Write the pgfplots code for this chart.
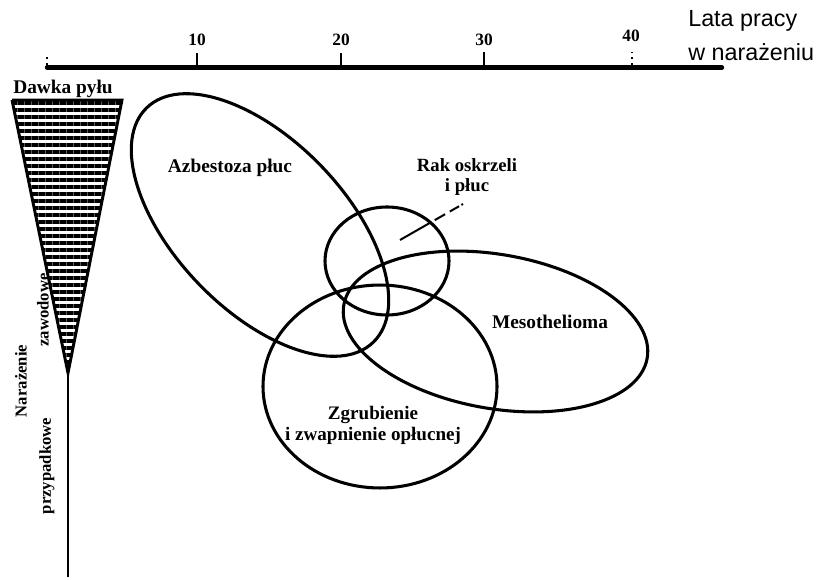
\documentclass[border=0pt]{standalone}
\usepackage{pgfplots}
\pgfplotsset{compat=1.18}
\usepackage{fontspec}
\setmainfont{Liberation Serif}
\newfontfamily\sansf{Liberation Sans}
\usetikzlibrary{patterns.meta}
\begin{document}
\begin{tikzpicture}
\begin{axis}[
  name=ax,
  width=612pt, height=434.25pt, scale only axis,
  xmin=0, xmax=816, ymin=0, ymax=579,
  hide axis, clip=false,
]
% time axis (pixel x of years: 0->52, 10->197, 20->341, 30->484, 40->632)
\addplot[black, line width=3.2pt, line cap=round] coordinates {(47,511.5) (722,511.5)};
\addplot[black, line width=1.6pt] coordinates {(197,511.5) (197,526)};
\addplot[black, line width=1.6pt] coordinates {(341,511.5) (341,526)};
\addplot[black, line width=1.6pt] coordinates {(484,511.5) (484,527)};
\addplot[black, line width=1.6pt, dash pattern=on 2pt off 3pt] coordinates {(632,513) (632,527)};
\addplot[black, line width=1.6pt, dash pattern=on 2pt off 3pt] coordinates {(47,513) (47,523)};
\node[font=\bfseries\fontsize{13}{14}\selectfont] at (axis cs:197,539) {10};
\node[font=\bfseries\fontsize{13}{14}\selectfont] at (axis cs:341,539) {20};
\node[font=\bfseries\fontsize{13}{14}\selectfont] at (axis cs:484,539) {30};
\node[font=\bfseries\fontsize{13}{14}\selectfont] at (axis cs:631,543) {40};
\node[anchor=west, inner sep=0pt, font=\sansf\fontsize{17.5}{19}\selectfont] at (axis cs:688,558) {Lata pracy};
\node[anchor=west, inner sep=0pt, font=\sansf\fontsize{17.5}{19}\selectfont] at (axis cs:688,527) {w narażeniu};
% dose wedge
\addplot[black, line width=2.2pt, pattern={Lines[angle=0,distance=5.25pt,line width=2.5pt]}, pattern color=black]
  coordinates {(12,479) (122,479) (68,206) (12,479)};
\addplot[black, line width=1.8pt] coordinates {(68,206) (68,2)};
\node[font=\bfseries\fontsize{14.5}{16}\selectfont] at (axis cs:63,490) {Dawka pyłu};
\node[rotate=90, font=\bfseries\fontsize{12.5}{14}\selectfont] at (axis cs:21,198) {Narażenie};
\node[rotate=90, font=\bfseries\fontsize{12.5}{14}\selectfont] at (axis cs:43,269) {zawodowe};
\node[rotate=90, font=\bfseries\fontsize{12.5}{14}\selectfont] at (axis cs:47,113) {przypadkowe};
% ellipses
\draw[line width=2.3pt, shift={(axis cs:260,354)}, rotate=-46] (0,0) ellipse [x radius=122.25pt, y radius=63.75pt];
\draw[line width=2.3pt, shift={(axis cs:387,318)}] (0,0) ellipse [x radius=46.5pt, y radius=40.5pt];
\draw[line width=2.3pt, shift={(axis cs:495.5,247.5)}, rotate=-10] (0,0) ellipse [x radius=115.5pt, y radius=57.75pt];
\draw[line width=2.3pt, shift={(axis cs:380,192.5)}] (0,0) ellipse [x radius=87.75pt, y radius=76.1pt];
\addplot[black, line width=1.5pt, dash pattern=on 26pt off 4pt on 9pt off 4pt on 8pt off 2pt] coordinates {(400,339) (463,375)};
% labels
\node[font=\bfseries\fontsize{14.5}{15}\selectfont] at (axis cs:230,411) {Azbestoza płuc};
\node[align=center, font=\bfseries\fontsize{14}{14.5}\selectfont] at (axis cs:467,402) {Rak oskrzeli\\i płuc};
\node[font=\bfseries\fontsize{14.5}{15}\selectfont] at (axis cs:550,257) {Mesothelioma};
\node[align=center, font=\bfseries\fontsize{14.3}{15.75}\selectfont] at (axis cs:373,154) {Zgrubienie\\i zwapnienie opłucnej};
\end{axis}
\pgfresetboundingbox
\path[use as bounding box] (ax.south west) rectangle (ax.north east);
\end{tikzpicture}
\end{document}
